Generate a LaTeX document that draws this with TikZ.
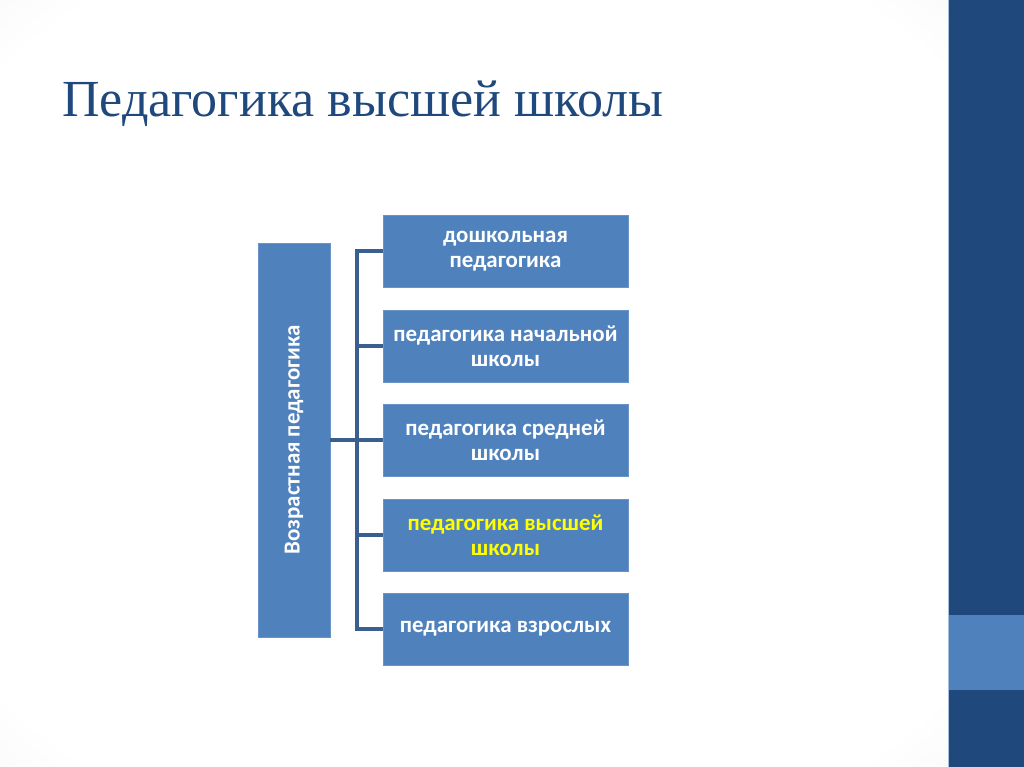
\documentclass[tikz,border=0pt]{standalone}
\usepackage{fontspec}
\setmainfont{Liberation Serif}
\newfontfamily\boxfont{Carlito}
\usetikzlibrary{positioning}

\definecolor{navy}{HTML}{1F497D}
\definecolor{boxblue}{HTML}{4F81BD}
\definecolor{linkblue}{HTML}{3A5F8E}
\definecolor{hiyellow}{HTML}{FFFF00}
\pgfdeclareradialshading{vignette}{\pgfpoint{0bp}{0bp}}{color(0bp)=(white); color(32bp)=(white); color(50bp)=(black!9)}

\begin{document}
\begin{tikzpicture}[x=0.025cm,y=-0.025cm,
    kind/.style={draw=boxblue!85!white,fill=boxblue,text=white,font=\boxfont\bfseries\fontsize{16.3}{17.5}\selectfont,
        align=center,minimum width=6.125cm,minimum height=1.8cm,inner sep=2pt},
    spoke/.style={draw=linkblue,line width=2.3pt}]
    \useasboundingbox (0,0) rectangle (1024,767);
    \shade[shading=vignette] (0,0) rectangle (948,767);
    \fill[navy] (948,0) rectangle (1024,767);
    \fill[boxblue] (948,615) rectangle (1024,690);
    \draw[boxblue!50!white,line width=0.6pt] (948.5,0) -- (948.5,767);
    \node[anchor=base west,text=navy,font=\fontsize{37}{44}\selectfont,inner sep=0pt] (title) at (62,117) {Педагогика высшей школы};

    \node[kind,rotate=90,minimum width=9.85cm,minimum height=1.8cm] (vp) at (294,440) {Возрастная педагогика};
    \node[kind] (b1) at (505.5,251) {дошкольная\\педагогика};
    \node[kind] (b2) at (505.5,346) {педагогика начальной\\школы};
    \node[kind] (b3) at (505.5,440) {педагогика средней\\школы};
    \node[kind,text=hiyellow] (b4) at (505.5,535) {педагогика высшей\\школы};
    \node[kind] (b5) at (505.5,629) {педагогика взрослых};

    \coordinate (bus) at (357,440);
    \draw[spoke] (vp.south) -- (bus);
    \draw[spoke,line cap=rect] (bus |- b1.west) -- (bus |- b5.west);
    \foreach \i in {1,...,5}
        \draw[spoke] (bus |- b\i.west) -- (b\i.west);
\end{tikzpicture}
\end{document}
